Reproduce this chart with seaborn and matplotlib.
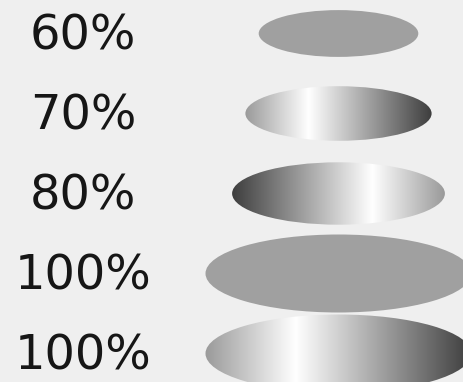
import numpy as np
import matplotlib
matplotlib.use("Agg")
import matplotlib.pyplot as plt
from matplotlib.patches import Ellipse
from matplotlib.colors import LinearSegmentedColormap
import seaborn as sns

# Data
labels = ["60%", "70%", "80%", "100%", "100%"]
sizes = [60, 70, 80, 100, 100]
fills = ["solid", "gradient", "gradient_rev", "solid", "gradient"]

bg = "#efefef"
solid_gray = "#a0a0a0"
sns.set_theme(style="white", rc={"figure.facecolor": bg, "axes.facecolor": bg})
plt.rcParams["font.family"] = ["DejaVu Sans"]

grad = LinearSegmentedColormap.from_list(
    "shine", [(0.0, "#9a9a9a"), (0.34, "#ffffff"), (1.0, "#3e3e3e")])

fig = plt.figure(figsize=(4.64, 3.82), dpi=100)
ax = fig.add_axes([0, 0, 1, 1])

# x in percent of full width (centre at 0), y in rows
px_per_pct = 2.66
row_px = 80.0
thickness = 0.975  # full-size ellipse height in rows

ramp = np.linspace(0, 1, 256).reshape(1, -1)
for i, (lab, size, fill) in enumerate(zip(labels, sizes, fills)):
    w = size
    h = thickness * size / 100
    z = 10 - i
    if fill == "solid":
        ax.add_patch(Ellipse((0, i), w, h, facecolor=solid_gray,
                             edgecolor="none", zorder=z))
    else:
        clip = Ellipse((0, i), w, h, facecolor="none", edgecolor="none",
                       transform=ax.transData)
        data = ramp if fill == "gradient" else ramp[:, ::-1]
        im = ax.imshow(data, cmap=grad, aspect="auto", interpolation="bicubic",
                       extent=[-w / 2, w / 2, i + h / 2, i - h / 2], zorder=z)
        im.set_clip_path(clip)
    ax.text(-96, i + 0.025, lab, ha="center", va="center", fontsize=34.5,
            color="#161616", zorder=20)

ax.set_xlim(-338.5 / px_per_pct, (464 - 338.5) / px_per_pct)
ax.set_ylim((382 - 33.5) / row_px, -33.5 / row_px)
ax.axis("off")

fig.savefig("out.png", dpi=100, facecolor=bg)
plt.close(fig)
